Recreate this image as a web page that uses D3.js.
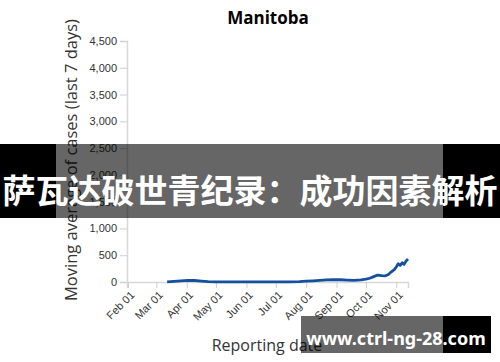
<!DOCTYPE html>
<html>
<head>
<meta charset="utf-8">
<title>Manitoba</title>
<script src="https://d3js.org/d3.v7.min.js"></script>
<style>
  body { margin: 0; background: #fff; }
</style>
</head>
<body>
<div id="chart"></div>
<script>
// 7-day moving average of reported cases
let dates = ["2020-03-12","2020-03-19","2020-03-26","2020-04-02","2020-04-09","2020-04-16","2020-04-23",
             "2020-05-01","2020-05-15","2020-06-01","2020-06-15","2020-07-01","2020-07-15","2020-07-25",
             "2020-08-01","2020-08-08","2020-08-15","2020-08-22","2020-08-29","2020-09-05","2020-09-12",
             "2020-09-19","2020-09-26","2020-10-01","2020-10-05","2020-10-09","2020-10-13","2020-10-17",
             "2020-10-21","2020-10-24","2020-10-27","2020-10-30","2020-11-01","2020-11-03","2020-11-05",
             "2020-11-07","2020-11-09","2020-11-11","2020-11-13"];
let values = [3, 12, 22, 30, 28, 18, 8,
              2, 1, 1, 1, 2, 4, 8,
              15, 22, 30, 38, 45, 42, 35,
              30, 40, 55, 70, 100, 130, 120,
              115, 140, 190, 230, 280, 340, 310,
              360, 330, 390, 430];
let yTicks = [0, 500, 1000, 1500, 2000, 2500, 3000, 3500, 4000, 4500];
let xDomain = ["2020-01-31", "2020-11-13"];

let title = "Manitoba";
let xTitle = "Reporting date";
let yTitle = "Moving average of cases (last 7 days)";
let banner = "萨瓦达破世青纪录：成功因素解析";
let watermark = "www.ctrl-ng-28.com";

let parse = d3.timeParse("%Y-%m-%d");
let data = dates.map(function(d, i) { return {date: parse(d), value: values[i]}; });

let svg = d3.select("#chart").append("svg")
    .attr("width", 500)
    .attr("height", 362);

let xScale = d3.scaleTime()
    .domain(xDomain.map(parse))
    .range([127, 408]);
let yScale = d3.scaleLinear()
    .domain([0, 4500])
    .range([282, 41]);

let xAxis = d3.axisBottom(xScale)
    .ticks(d3.timeMonth.every(1))
    .tickFormat(d3.timeFormat("%b %d"))
    .tickSize(6);
let yAxis = d3.axisLeft(yScale)
    .tickValues(yTicks)
    .tickFormat(d3.format(","))
    .tickSize(7)
    .tickPadding(3);

let gx = svg.append("g")
    .attr("transform", "translate(0,282)")
    .call(xAxis);
gx.selectAll("text")
    .attr("x", 0).attr("y", 0).attr("dy", "0.35em")
    .attr("text-anchor", "end")
    .attr("transform", "translate(4,11) rotate(-45)");

let gy = svg.append("g")
    .attr("transform", "translate(127,0)")
    .call(yAxis);

[gx, gy].forEach(function(g) {
    g.selectAll("path").attr("stroke", "#d8d8d8").attr("stroke-width", 1.5);
    g.selectAll("line").attr("stroke", "#cfcfcf");
    g.selectAll("text")
        .attr("font-family", "'Liberation Sans', Arial, sans-serif")
        .attr("font-size", "11px")
        .attr("fill", "#333");
});

let line = d3.line()
    .x(function(d) { return xScale(d.date); })
    .y(function(d) { return yScale(d.value); });

svg.append("path")
    .datum(data)
    .attr("d", line)
    .attr("fill", "none")
    .attr("stroke", "#13519e")
    .attr("stroke-width", 2.8)
    .attr("stroke-linejoin", "round");

svg.append("text")
    .attr("x", 268).attr("y", 24)
    .attr("text-anchor", "middle")
    .attr("font-family", "'Open Sans', sans-serif")
    .attr("font-weight", "bold")
    .attr("font-size", "17px")
    .attr("fill", "#000")
    .text(title);

svg.append("text")
    .attr("x", 267).attr("y", 351)
    .attr("text-anchor", "middle")
    .attr("font-family", "'Open Sans', sans-serif")
    .attr("font-size", "16px")
    .attr("fill", "#333")
    .text(xTitle);

svg.append("text")
    .attr("transform", "translate(77,160) rotate(-90)")
    .attr("text-anchor", "middle")
    .attr("font-family", "'Open Sans', sans-serif")
    .attr("font-size", "16.5px")
    .attr("fill", "#333")
    .text(yTitle);

// overlay banner and watermark
function overlay(x0, x1, y0, y1) {
    svg.append("rect").attr("x", x0).attr("y", y0).attr("width", x1 - x0).attr("height", y1 - y0)
        .attr("fill", "rgba(0,0,0,0.6)");
    if (x0 < 56) svg.append("rect").attr("x", x0).attr("y", y0).attr("width", 56 - x0).attr("height", y1 - y0).attr("fill", "#000");
    if (x1 > 443) svg.append("rect").attr("x", 443).attr("y", y0).attr("width", x1 - 443).attr("height", y1 - y0).attr("fill", "#000");
}
overlay(0, 500, 144, 218);
svg.append("text")
    .attr("x", 250).attr("y", 189)
    .attr("dominant-baseline", "central")
    .attr("text-anchor", "middle")
    .attr("font-family", "'Noto Sans CJK SC', sans-serif")
    .attr("font-weight", "bold")
    .attr("font-size", "33px")
    .attr("fill", "#fff")
    .text(banner);

overlay(301, 491, 316, 353);
svg.append("text")
    .attr("x", 396).attr("y", 345)
    .attr("text-anchor", "middle")
    .attr("font-family", "'Noto Sans', sans-serif")
    .attr("font-weight", "bold")
    .attr("font-size", "18px")
    .attr("fill", "#fff")
    .text(watermark);
</script>
</body>
</html>
